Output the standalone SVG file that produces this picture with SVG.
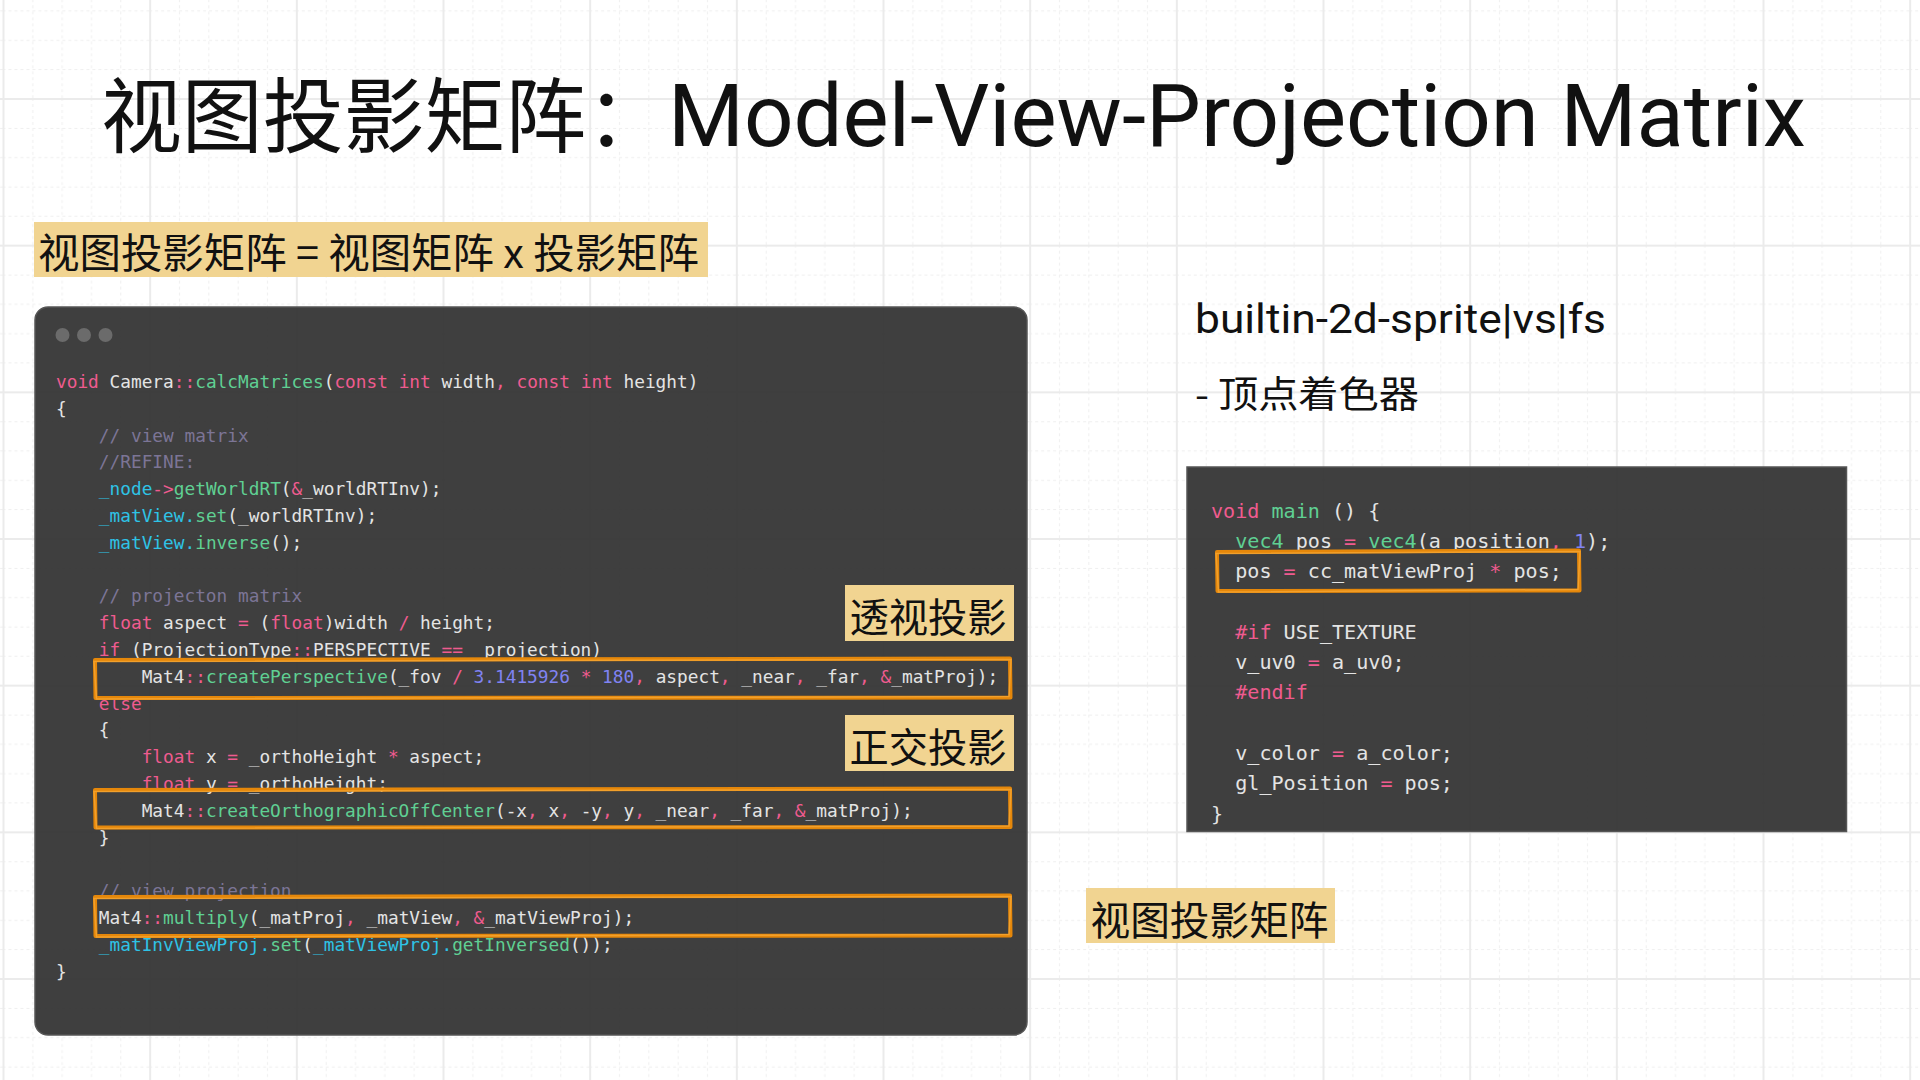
<svg xmlns="http://www.w3.org/2000/svg" width="1920" height="1080" viewBox="0 0 1920 1080">
<defs>
<pattern id="grid" patternUnits="userSpaceOnUse" x="2.5" y="98" width="146.667" height="146.667">
<g stroke="#efefef" stroke-width="1" stroke-dasharray="3 3" fill="none">
<line x1="0" y1="30.33" x2="146.667" y2="30.33"/>
<line x1="0" y1="59.67" x2="146.667" y2="59.67"/>
<line x1="0" y1="89" x2="146.667" y2="89"/>
<line x1="0" y1="118.33" x2="146.667" y2="118.33"/>
<line x1="30.33" y1="0" x2="30.33" y2="146.667"/>
<line x1="59.67" y1="0" x2="59.67" y2="146.667"/>
<line x1="89" y1="0" x2="89" y2="146.667"/>
<line x1="118.33" y1="0" x2="118.33" y2="146.667"/>
</g>
<g stroke="#ebebeb" stroke-width="2" fill="none">
<line x1="0" y1="1" x2="146.667" y2="1"/>
<line x1="1" y1="0" x2="1" y2="146.667"/>
</g>
</pattern>
<style>
.title{font-family:"Noto Sans CJK SC","Noto Sans",sans-serif;fill:#111}
.latin{font-family:Roboto,"Noto Sans","Noto Sans CJK SC",sans-serif;fill:#111}
.tag{fill:#f1d491}
.tagt{font-family:"Noto Sans CJK SC","Noto Sans",sans-serif;font-size:40px;fill:#111}
.panel{fill:#2f2f2f;fill-opacity:0.92;stroke:#565656;stroke-width:1.5}
.code{font-family:"DejaVu Sans Mono","Liberation Mono",monospace;font-size:17.8px;fill:#e4e4e4;white-space:pre}
.code2{font-family:"DejaVu Sans Mono","Liberation Mono",monospace;font-size:20.1px;fill:#e4e4e4;white-space:pre}
.code text,.code2 text{white-space:pre}
.k{fill:#ef5b8f}
.f{fill:#5fd093}
.m{fill:#2ec3e6}
.c{fill:#7c7596}
.n{fill:#8083f2}
.hlA{fill:none;stroke:#e5870a;stroke-width:4;stroke-linejoin:round}
.hlB{fill:none;stroke:#f4a531;stroke-width:1.5;opacity:0.85}
.dot{fill:#6b6b6b}
</style>
</defs>
<rect width="1920" height="1080" fill="#ffffff"/>
<rect width="1920" height="1080" fill="url(#grid)"/>

<g id="title">
<text class="title" x="101" y="146" font-size="82" textLength="566" lengthAdjust="spacingAndGlyphs">视图投影矩阵：</text>
<text class="latin" x="668" y="146" font-size="88" textLength="1138" lengthAdjust="spacingAndGlyphs">Model-View-Projection Matrix</text>
</g>

<g id="formula">
<rect class="tag" x="34" y="222" width="674" height="55"/>
<text class="title" x="38" y="268" font-size="41" textLength="661" lengthAdjust="spacingAndGlyphs" style="white-space:pre">视图投影矩阵 = 视图矩阵 x 投影矩阵</text>
</g>

<g id="cpp-panel">
<rect class="panel" x="35" y="307" width="992" height="728" rx="13"/>
<circle class="dot" cx="62.5" cy="335" r="7"/>
<circle class="dot" cx="84" cy="335" r="7"/>
<circle class="dot" cx="105.5" cy="335" r="7"/>
<g class="code">
<text xml:space="preserve" x="56" y="388"><tspan class="k">void</tspan> Camera<tspan class="k">::</tspan><tspan class="f">calcMatrices</tspan>(<tspan class="k">const</tspan> <tspan class="k">int</tspan> width<tspan class="k">,</tspan> <tspan class="k">const</tspan> <tspan class="k">int</tspan> height)</text>
<text xml:space="preserve" x="56" y="414.8">{</text>
<text xml:space="preserve" x="56" y="441.6" class="c">    // view matrix</text>
<text xml:space="preserve" x="56" y="468.4" class="c">    //REFINE:</text>
<text xml:space="preserve" x="56" y="495.2">    <tspan class="m">_node</tspan><tspan class="k">-&gt;</tspan><tspan class="f">getWorldRT</tspan>(<tspan class="k">&amp;</tspan>_worldRTInv);</text>
<text xml:space="preserve" x="56" y="522">    <tspan class="m">_matView.</tspan><tspan class="f">set</tspan>(_worldRTInv);</text>
<text xml:space="preserve" x="56" y="548.8">    <tspan class="m">_matView.</tspan><tspan class="f">inverse</tspan>();</text>
<text xml:space="preserve" x="56" y="602.4" class="c">    // projecton matrix</text>
<text xml:space="preserve" x="56" y="629.2">    <tspan class="k">float</tspan> aspect <tspan class="k">=</tspan> (<tspan class="k">float</tspan>)width <tspan class="k">/</tspan> height;</text>
<text xml:space="preserve" x="56" y="656">    <tspan class="k">if</tspan> (ProjectionType<tspan class="k">::</tspan>PERSPECTIVE <tspan class="k">==</tspan> _projection)</text>
<text xml:space="preserve" x="56" y="682.8">        Mat4<tspan class="k">::</tspan><tspan class="f">createPerspective</tspan>(_fov <tspan class="k">/</tspan> <tspan class="n">3.1415926</tspan> <tspan class="k">*</tspan> <tspan class="n">180</tspan><tspan class="k">,</tspan> aspect<tspan class="k">,</tspan> _near<tspan class="k">,</tspan> _far<tspan class="k">,</tspan> <tspan class="k">&amp;</tspan>_matProj);</text>
<text xml:space="preserve" x="56" y="709.6">    <tspan class="k">else</tspan></text>
<text xml:space="preserve" x="56" y="736.4">    {</text>
<text xml:space="preserve" x="56" y="763.2">        <tspan class="k">float</tspan> x <tspan class="k">=</tspan> _orthoHeight <tspan class="k">*</tspan> aspect;</text>
<text xml:space="preserve" x="56" y="790">        <tspan class="k">float</tspan> y <tspan class="k">=</tspan> _orthoHeight;</text>
<text xml:space="preserve" x="56" y="816.8">        Mat4<tspan class="k">::</tspan><tspan class="f">createOrthographicOffCenter</tspan>(-x<tspan class="k">,</tspan> x<tspan class="k">,</tspan> -y<tspan class="k">,</tspan> y<tspan class="k">,</tspan> _near<tspan class="k">,</tspan> _far<tspan class="k">,</tspan> <tspan class="k">&amp;</tspan>_matProj);</text>
<text xml:space="preserve" x="56" y="843.6">    }</text>
<text xml:space="preserve" x="56" y="897.2" class="c">    // view projection</text>
<text xml:space="preserve" x="56" y="924">    Mat4<tspan class="k">::</tspan><tspan class="f">multiply</tspan>(_matProj<tspan class="k">,</tspan> _matView<tspan class="k">,</tspan> <tspan class="k">&amp;</tspan>_matViewProj);</text>
<text xml:space="preserve" x="56" y="950.8">    <tspan class="m">_matInvViewProj.</tspan><tspan class="f">set</tspan>(<tspan class="m">_matViewProj.</tspan><tspan class="f">getInversed</tspan>());</text>
<text xml:space="preserve" x="56" y="977.6">}</text>
</g>
</g>

<g id="shader-title">
<text class="latin" x="1195" y="333" font-size="40" textLength="411" lengthAdjust="spacingAndGlyphs">builtin-2d-sprite|vs|fs</text>
<text class="title" x="1195" y="407.5" font-size="37" textLength="224" lengthAdjust="spacingAndGlyphs" style="white-space:pre">- 顶点着色器</text>
</g>

<g id="glsl-panel">
<rect class="panel" x="1187" y="467" width="659.5" height="364.5"/>
<g class="code2">
<text xml:space="preserve" x="1211" y="517.5"><tspan class="k">void</tspan> <tspan class="f">main</tspan> () {</text>
<text xml:space="preserve" x="1211" y="547.8">  <tspan class="f">vec4</tspan> pos <tspan class="k">=</tspan> <tspan class="f">vec4</tspan>(a_position<tspan class="k">,</tspan> <tspan class="n">1</tspan>);</text>
<text xml:space="preserve" x="1211" y="578.1">  pos <tspan class="k">=</tspan> cc_matViewProj <tspan class="k">*</tspan> pos;</text>
<text xml:space="preserve" x="1211" y="638.7">  <tspan class="k">#if</tspan> USE_TEXTURE</text>
<text xml:space="preserve" x="1211" y="669">  v_uv0 <tspan class="k">=</tspan> a_uv0;</text>
<text xml:space="preserve" x="1211" y="699.3">  <tspan class="k">#endif</tspan></text>
<text xml:space="preserve" x="1211" y="759.9">  v_color <tspan class="k">=</tspan> a_color;</text>
<text xml:space="preserve" x="1211" y="790.2">  gl_Position <tspan class="k">=</tspan> pos;</text>
<text xml:space="preserve" x="1211" y="820.5">}</text>
</g>
</g>

<g id="label-perspective">
<rect class="tag" x="845" y="585" width="169" height="56"/>
<text class="tagt" x="849.5" y="632" textLength="157" lengthAdjust="spacingAndGlyphs">透视投影</text>
</g>
<g id="label-ortho">
<rect class="tag" x="845" y="715" width="169" height="56"/>
<text class="tagt" x="849.5" y="762" textLength="157" lengthAdjust="spacingAndGlyphs">正交投影</text>
</g>
<g id="label-viewproj">
<rect class="tag" x="1086" y="888" width="249" height="55"/>
<text class="tagt" x="1090.5" y="935" textLength="238" lengthAdjust="spacingAndGlyphs">视图投影矩阵</text>
</g>

<g id="highlights">
<path class="hlA" d="M95 660 L1010 658.5 L1010.5 697.5 L95.5 698 Z"/>
<path class="hlB" d="M94 661.5 L1011 659.5 L1009 696.5 L96.5 699 Z"/>
<path class="hlA" d="M95 790 L1010 788.5 L1010.5 827 L95.5 827.5 Z"/>
<path class="hlB" d="M94 791.5 L1011 789.5 L1009 826 L96.5 828.5 Z"/>
<path class="hlA" d="M95 897 L1010 895.5 L1010.5 935.5 L95.5 936 Z"/>
<path class="hlB" d="M94 898.5 L1011 896.5 L1009 934.5 L96.5 937 Z"/>
<path class="hlA" d="M1217 552 L1579 550.5 L1579.5 590.5 L1217.5 591 Z"/>
<path class="hlB" d="M1216 553.5 L1580 551.5 L1578 589.5 L1218.5 592 Z"/>
</g>
</svg>
